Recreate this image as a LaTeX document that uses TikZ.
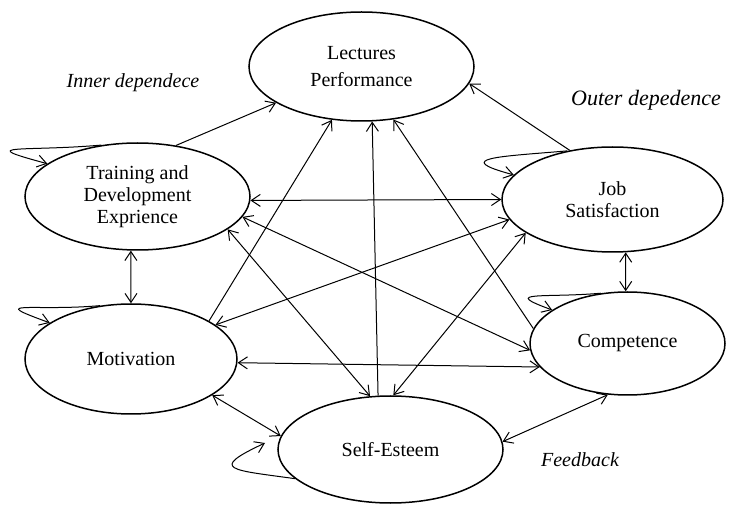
\documentclass[tikz,border=0pt]{standalone}
\usepackage{fontspec}
\setmainfont{Liberation Serif}
\usetikzlibrary{arrows.meta,shapes.geometric}
\begin{document}
\begin{tikzpicture}[x=1pt,y=1pt,
  ent/.style={draw, ellipse, line width=1.5pt, inner sep=0pt, align=center,
    font=\fontsize{20}{22}\selectfont},
  con/.style={line width=1pt, -{Straight Barb[length=9pt,width=12pt]}},
  dbl/.style={line width=1pt, {Straight Barb[length=9pt,width=12pt]}-{Straight Barb[length=9pt,width=12pt]}},
  lab/.style={font=\fontsize{20}{22}\selectfont\itshape}]
\useasboundingbox (0,0) rectangle (729,504);
% entities
\node[ent, minimum width=225pt, minimum height=109pt, font=\fontsize{20}{27}\selectfont] (LP) at (361.5,437.5) {Lectures\\Performance};
\node[ent, minimum width=225pt, minimum height=107pt] (TD) at (137.5,307.5) {Training and\\Development\\Exprience};
\node[ent, minimum width=221pt, minimum height=105pt] (JS) at (612.5,304.5) {Job\\Satisfaction};
\node[ent, minimum width=195pt, minimum height=103pt] (CO) at (627.5,160.5) {Competence};
\node[ent, minimum width=212pt, minimum height=110pt] (MO) at (131,145) {Motivation};
\node[ent, minimum width=225pt, minimum height=107pt] (SE) at (390.5,54.5) {Self-Esteem};
\coordinate (seloop) at (265,61);
% labels
\node[lab] (inner) at (133,421) {Inner dependece};
\node[lab, font=\fontsize{22}{24}\selectfont\itshape] (outer) at (646,404) {Outer depedence};
\node[lab] (fb) at (580,44) {Feedback};
% arrows into Lectures Performance
\draw[con] (TD.53) -- (LP.203);
\draw[con] (JS.131) -- (LP.351);
\draw[con] (MO.26) -- (LP.241);
\draw[con] (SE.103) -- (LP.281);
\draw[con] (CO.171) -- (LP.301);
% double arrows
\draw[dbl] (TD.358) -- (JS.180);
\draw[dbl] (TD.263) -- (MO.90);
\draw[dbl] (TD.349) -- (CO.184);
\draw[dbl] (TD.340) -- (SE.111);
\draw[dbl] (JS.191) -- (MO.22);
\draw[dbl] (JS.201) -- (SE.87);
\draw[dbl] (JS.284) -- (CO.92);
\draw[dbl] (MO.358) -- (CO.195);
\draw[dbl] (MO.336) -- (SE.173);
\draw[dbl] (SE.4) -- (CO.249);
% self loops
\draw[con] (TD.125) to[out=185,in=165,looseness=3.5] (TD.160);
\draw[con] (JS.133) to[out=185,in=165,looseness=2.9] (JS.166);
\draw[con] (MO.120) to[out=185,in=160,looseness=3.3] (MO.156);
\draw[con] (CO.118) to[out=185,in=160,looseness=2.8] (CO.156);
\draw[con] (SE.197) to[out=172,in=205,looseness=3.5] (seloop);
\end{tikzpicture}
\end{document}
